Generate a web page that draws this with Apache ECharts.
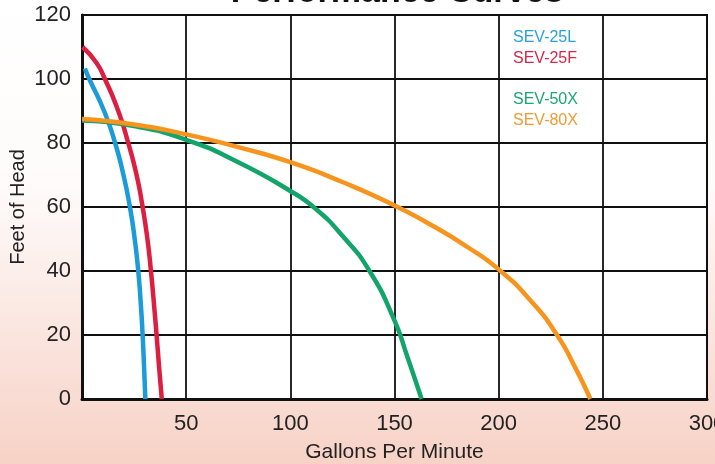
<!DOCTYPE html>
<html>
<head>
<meta charset="utf-8">
<script src="https://cdn.jsdelivr.net/npm/echarts@6/dist/echarts.min.js"></script>
<style>
  html, body { margin: 0; padding: 0; }
  #chart {
    width: 715px;
    height: 464px;
    background: linear-gradient(to bottom, #ffffff 0%, #fefbfa 40%, #fae3dc 75%, #f7d2c6 100%);
  }
</style>
</head>
<body>
<div id="chart"></div>
<script>
// 曲线数据 [GPM, 扬程 ft]
const sev25L = [[1.4, 103.3], [3.5, 100], [10.6, 90], [15.9, 80], [19.9, 70], [23, 60], [25.3, 50], [27, 40], [28.2, 30], [29.1, 20], [29.8, 10], [30.4, 0]];
const sev25F = [[0.3, 110], [7, 105], [11, 100], [17.4, 90], [22.2, 80], [26.2, 70], [29.1, 60], [31.4, 50], [33.1, 40], [34.5, 30], [35.8, 20], [37, 10], [38.3, 0]];
const sev50X = [[0, 87], [25, 85.3], [50, 81], [75, 74], [100, 65], [112, 59.5], [125, 51], [138, 40], [150, 24.5], [156, 13.5], [163, 0]];
const sev80X = [[0, 87.5], [25, 85.8], [50, 82.7], [75, 78.7], [100, 74], [125, 67.8], [150, 60.5], [170, 53.5], [185, 47.5], [200, 40.5], [215, 31], [228, 20], [237, 9.5], [244, 0]];

const seriesNames = ['SEV-25L', 'SEV-25F', 'SEV-50X', 'SEV-80X'];
const lineColors = ['#1b9bd7', '#dc1f40', '#12a46b', '#f7941d'];
const textColors = ['#2aa0d8', '#d6284a', '#1ba672', '#f39a33'];

const FONT = '"Liberation Sans", Arial, sans-serif';

const chart = echarts.init(document.getElementById('chart'), null, { renderer: 'canvas' });

function makeSeries(name, data, color) {
  return {
    name: name,
    type: 'line',
    data: data,
    smooth: 0.55,
    showSymbol: false,
    lineStyle: { color: color, width: 4.5 },
    itemStyle: { color: color }
  };
}

function legendItems(idx) {
  return idx.map(i => ({ name: seriesNames[i], textStyle: { color: textColors[i] } }));
}

function makeLegend(idx, top) {
  return {
    data: legendItems(idx),
    orient: 'vertical',
    left: 508,
    top: top,
    padding: 0,
    icon: 'none',
    itemWidth: 0,
    itemGap: 5,
    selectedMode: false,
    textStyle: { fontFamily: FONT, fontSize: 16 }
  };
}

const option = {
  animation: false,
  title: {
    text: 'Performance Curves',
    left: 392,
    textAlign: 'center',
    top: -29,
    textStyle: { fontFamily: FONT, fontWeight: 'bold', fontSize: 34, color: '#111' }
  },
  legend: [makeLegend([0, 1], 30), makeLegend([2, 3], 92)],
  grid: {
    left: 82,
    right: 8,
    top: 15,
    bottom: 65,
    outerBoundsMode: 'none',
    show: true,
    backgroundColor: '#ffffff',
    borderColor: '#111',
    borderWidth: 2
  },
  xAxis: {
    type: 'value',
    min: 0,
    max: 300,
    interval: 50,
    name: 'Gallons Per Minute',
    nameLocation: 'middle',
    nameGap: 43,
    nameTextStyle: { fontFamily: FONT, fontSize: 21, color: '#222' },
    axisLine: { show: true, lineStyle: { color: '#111', width: 3 } },
    axisTick: { show: false },
    axisLabel: {
      fontFamily: FONT,
      fontSize: 22,
      color: '#222',
      margin: 14,
      formatter: v => (v === 0 ? '' : v)
    },
    splitLine: { show: true, lineStyle: { color: '#111', width: 1.8 } }
  },
  yAxis: {
    type: 'value',
    min: 0,
    max: 120,
    interval: 20,
    name: 'Feet of Head',
    nameLocation: 'middle',
    nameGap: 54,
    nameMoveOverlap: false,
    nameTextStyle: { fontFamily: FONT, fontSize: 20, color: '#222' },
    axisLine: { show: true, lineStyle: { color: '#111', width: 3 } },
    axisTick: { show: false },
    axisLabel: { fontFamily: FONT, fontSize: 22, color: '#222', margin: 11 },
    splitLine: { show: true, lineStyle: { color: '#111', width: 1.8 } }
  },
  series: [
    makeSeries(seriesNames[0], sev25L, lineColors[0]),
    makeSeries(seriesNames[1], sev25F, lineColors[1]),
    makeSeries(seriesNames[2], sev50X, lineColors[2]),
    makeSeries(seriesNames[3], sev80X, lineColors[3])
  ]
};

chart.setOption(option);
</script>
</body>
</html>
